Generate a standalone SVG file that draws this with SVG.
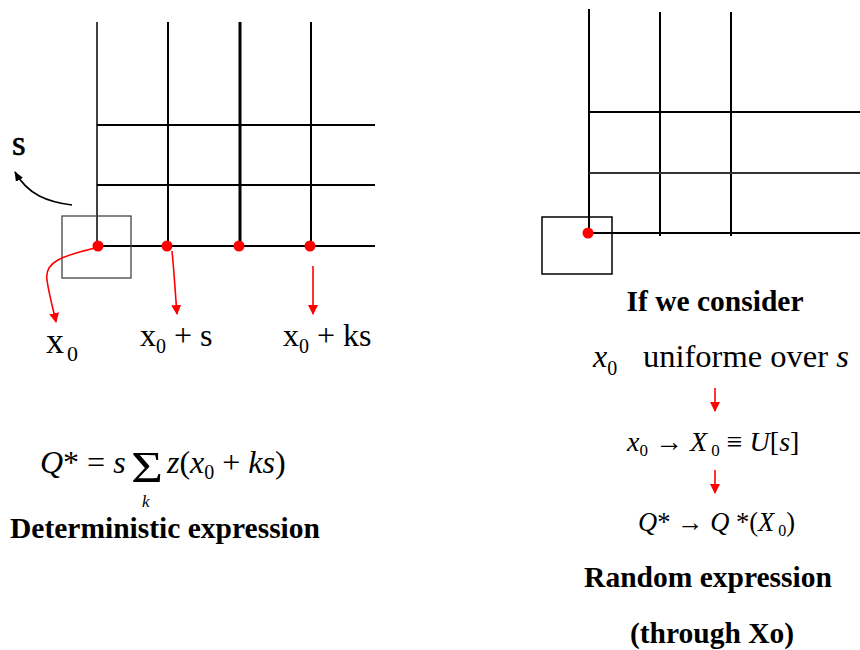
<svg xmlns="http://www.w3.org/2000/svg" width="860" height="650" viewBox="0 0 860 650">
<defs>
<style>
.g{stroke:#000;stroke-width:2;fill:none}
.t{font-family:"Liberation Serif","Times New Roman",serif;fill:#000}
.i{font-style:italic}
.b{font-weight:bold}
.r{stroke:#f00;stroke-width:1.6;fill:none}
.dot{fill:#f00}
</style>
<marker id="ar" markerWidth="10" markerHeight="10" refX="9" refY="5" orient="auto" markerUnits="userSpaceOnUse"><path d="M0,0 L10,5 L0,10 z" fill="#f00"/></marker>
<marker id="ab" markerWidth="10" markerHeight="10" refX="9" refY="5" orient="auto" markerUnits="userSpaceOnUse"><path d="M0,1 L10,5 L0,9 z" fill="#000"/></marker>
</defs>
<rect width="860" height="650" fill="#fff"/>

<g id="left-grid">
<line class="g" x1="97" y1="22" x2="97" y2="246" style="stroke-width:1.5"/>
<line class="g" x1="168" y1="22" x2="168" y2="246"/>
<line class="g" x1="240" y1="22" x2="240" y2="246" style="stroke-width:3"/>
<line class="g" x1="311" y1="22" x2="311" y2="246"/>
<line class="g" x1="97" y1="125" x2="375" y2="125"/>
<line class="g" x1="97" y1="185" x2="375" y2="185"/>
<line class="g" x1="97" y1="246" x2="375" y2="246"/>
<rect x="62" y="216" width="69" height="62" fill="none" stroke="#444" stroke-width="1.3"/>
<circle class="dot" cx="98" cy="246" r="5.5"/>
<circle class="dot" cx="167" cy="246" r="5.5"/>
<circle class="dot" cx="239" cy="246" r="5.5"/>
<circle class="dot" cx="310" cy="246" r="5.5"/>
</g>

<g id="right-grid">
<line class="g" x1="589" y1="9" x2="589" y2="233"/>
<line class="g" x1="660" y1="12" x2="660" y2="236"/>
<line class="g" x1="731" y1="12" x2="731" y2="236"/>
<line class="g" x1="589" y1="112" x2="860" y2="112"/>
<line class="g" x1="589" y1="173" x2="860" y2="173" style="stroke:#333"/>
<line class="g" x1="589" y1="233" x2="860" y2="233"/>
<rect x="542" y="217" width="70" height="57" fill="none" stroke="#000" stroke-width="1.5"/>
<circle class="dot" cx="588" cy="233" r="5.5"/>
</g>

<g id="connectors">
<path d="M72,205 C48,202 28,195 15,172" fill="none" stroke="#000" stroke-width="1.6" marker-end="url(#ab)"/>
<path class="r" d="M95,248 C62,256 44,262 47,280 C49,295 53,308 56,322" marker-end="url(#ar)"/>
<path class="r" d="M172,251 C174,270 175,290 177,314" marker-end="url(#ar)"/>
<line class="r" x1="313" y1="266" x2="313" y2="314" marker-end="url(#ar)"/>
<line class="r" x1="715" y1="388" x2="715" y2="411" marker-end="url(#ar)"/>
<line class="r" x1="715" y1="470" x2="715" y2="493" marker-end="url(#ar)"/>
</g>

<g id="labels-left">
<text class="t" x="12" y="155" font-size="35" stroke="#000" stroke-width="0.6">s</text>
<text class="t" x="46" y="353" font-size="36">x</text>
<text class="t" x="67" y="361" font-size="22">0</text>
<text class="t" x="140" y="346" font-size="32">x<tspan font-size="20" dy="7">0</tspan><tspan dy="-7"> + s</tspan></text>
<text class="t" x="283" y="346" font-size="32">x<tspan font-size="20" dy="7">0</tspan><tspan dy="-7"> + ks</tspan></text>
</g>

<g id="formula-left">
<text class="t i" x="40" y="473" font-size="32">Q<tspan font-style="normal">*</tspan><tspan font-style="normal"> = </tspan>s</text>
<text class="t" x="131" y="482" font-size="44" textLength="32" lengthAdjust="spacingAndGlyphs">Σ</text>
<text class="t i" x="142" y="507" font-size="17">k</text>
<text class="t i" x="167" y="473" font-size="32">z<tspan font-style="normal">(</tspan>x<tspan font-style="normal" font-size="20" dy="6">0</tspan><tspan font-style="normal" dy="-6"> + </tspan>ks<tspan font-style="normal">)</tspan></text>
<text class="t b" x="10" y="538" font-size="29.5">Deterministic expression</text>
</g>

<g id="labels-right">
<text class="t b" x="715" y="311" font-size="29.5" text-anchor="middle">If we consider</text>
<text class="t i" x="593" y="367" font-size="32">x<tspan font-style="normal" font-size="20" dy="8">0</tspan></text>
<text class="t" x="643" y="367" font-size="32.5">uniforme over <tspan font-style="italic">s</tspan></text>
<text class="t i" x="627" y="451" font-size="28">x<tspan font-style="normal" font-size="17" dy="5">0</tspan><tspan font-style="normal" dy="-5"> → </tspan>X<tspan font-style="normal" font-size="17" dy="5"> 0</tspan><tspan font-style="normal" dy="-5"> ≡ </tspan>U<tspan font-style="normal">[</tspan>s<tspan font-style="normal">]</tspan></text>
<text class="t i" x="638" y="531" font-size="26.5">Q<tspan font-style="normal">* → </tspan>Q<tspan font-style="normal"> *(</tspan>X<tspan font-style="normal" font-size="16" dy="5"> 0</tspan><tspan font-style="normal" dy="-5">)</tspan></text>
<text class="t b" x="708" y="587" font-size="29.5" text-anchor="middle">Random expression</text>
<text class="t b" x="712" y="643" font-size="29.5" text-anchor="middle">(through Xo)</text>
</g>
</svg>
